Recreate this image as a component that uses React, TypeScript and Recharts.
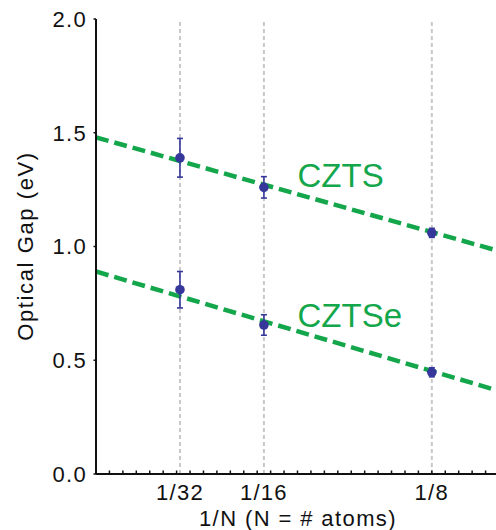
import {
  ComposedChart,
  ErrorBar,
  Line,
  ReferenceDot,
  ReferenceLine,
  Scatter,
  XAxis,
  YAxis,
} from "recharts";

// sizes as 1/N, N = number of atoms
const sizes = [1 / 32, 1 / 16, 1 / 8];
const sizeLabels = ["1/32", "1/16", "1/8"];

const cztsGap = [1.39, 1.26, 1.06];
const cztsErr = [0.085, 0.047, 0.02];
const cztseGap = [0.81, 0.655, 0.447];
const cztseErr = [0.08, 0.045, 0.02];

// linear fits, end points
const fitX = [0, 0.15];
const cztsFit = [1.48, 0.98];
const cztseFit = [0.89, 0.365];

const yTicks = [0, 0.5, 1, 1.5, 2];
const minorStep = 0.005;
const minorTicks = Array.from({ length: 29 }, (_, i) => +((i + 1) * minorStep).toFixed(3)).filter(
  (t) => !sizes.some((s) => Math.abs(s - t) < 1e-9)
);

const GREEN = "#13a64b";
const BLUE = "#36379a";
const FONT = "'Liberation Sans', Arial, Helvetica, sans-serif";

const cztsPoints = sizes.map((x, i) => ({ x, y: cztsGap[i], err: cztsErr[i] }));
const cztsePoints = sizes.map((x, i) => ({ x, y: cztseGap[i], err: cztseErr[i] }));
const cztsLine = fitX.map((x, i) => ({ x, y: cztsFit[i] }));
const cztseLine = fitX.map((x, i) => ({ x, y: cztseFit[i] }));

function XTick({ x, y, payload }: any) {
  const v = payload.value;
  const idx = sizes.findIndex((s) => Math.abs(s - v) < 1e-9);
  const onStep = Math.abs(v / minorStep - Math.round(v / minorStep)) < 1e-6;
  return (
    <g>
      {onStep && <line x1={x} x2={x} y1={y - 1} y2={y - 3.5} stroke="#111" strokeWidth={1.5} />}
      {idx >= 0 && (
        <text x={x} y={y + 26} textAnchor="middle" fontSize={22} letterSpacing={1.3} fill="#111" fontFamily={FONT}>
          {sizeLabels[idx]}
        </text>
      )}
    </g>
  );
}

function YTick({ x, y, payload }: any) {
  return (
    <g>
      <line x1={x - 2.5} x2={x} y1={y} y2={y} stroke="#111" strokeWidth={1.5} />
      <text x={x - 9} y={y} dy="0.36em" textAnchor="end" fontSize={22} letterSpacing={1.3} fill="#111" fontFamily={FONT}>
        {payload.value.toFixed(1)}
      </text>
    </g>
  );
}

const labelShape = (text: string) => (p: any) => (
  <text x={p.cx} y={p.cy} fontSize={33} fill={GREEN} fontFamily={FONT}>
    {text}
  </text>
);

const dotShape = (p: any) => <circle cx={p.cx} cy={p.cy} r={4.8} fill={BLUE} />;

export default function App() {
  return (
    <div style={{ position: "absolute", left: 0, top: 0, width: 496, height: 530, overflow: "hidden", background: "#fff" }}>
      <ComposedChart width={504} height={530} margin={{ top: 19, right: 5, bottom: 0, left: 0 }}>
        <XAxis
          type="number"
          dataKey="x"
          domain={[0, 0.15]}
          ticks={[...minorTicks, ...sizes]}
          interval={0}
          allowDataOverflow
          height={56}
          axisLine={{ stroke: "#111", strokeWidth: 2 }}
          tickLine={false}
          tickSize={0}
          tickMargin={0}
          tick={<XTick />}
        />
        <YAxis
          type="number"
          dataKey="y"
          domain={[0, 2]}
          ticks={yTicks}
          allowDataOverflow
          width={96}
          axisLine={{ stroke: "#111", strokeWidth: 2 }}
          tickLine={false}
          tickSize={0}
          tickMargin={0}
          tick={<YTick />}
        />
        {sizes.map((s) => (
          <ReferenceLine key={s} x={s} stroke="#c8c8c8" strokeWidth={2} strokeDasharray="4 3" />
        ))}
        <Line
          data={cztsLine}
          dataKey="y"
          type="linear"
          stroke={GREEN}
          strokeWidth={4.5}
          strokeDasharray="13 6"
          dot={false}
          activeDot={false}
          isAnimationActive={false}
        />
        <Line
          data={cztseLine}
          dataKey="y"
          type="linear"
          stroke={GREEN}
          strokeWidth={4.5}
          strokeDasharray="13 6"
          dot={false}
          activeDot={false}
          isAnimationActive={false}
        />
        <Scatter data={cztsPoints} dataKey="y" fill={BLUE} shape={dotShape} isAnimationActive={false}>
          <ErrorBar dataKey="err" direction="y" width={3} stroke={BLUE} strokeWidth={1.6} isAnimationActive={false} />
        </Scatter>
        <Scatter data={cztsePoints} dataKey="y" fill={BLUE} shape={dotShape} isAnimationActive={false}>
          <ErrorBar dataKey="err" direction="y" width={3} stroke={BLUE} strokeWidth={1.6} isAnimationActive={false} />
        </Scatter>
        <ReferenceDot x={0.075} y={1.26} r={0} shape={labelShape("CZTS")} />
        <ReferenceDot x={0.075} y={0.645} r={0} shape={labelShape("CZTSe")} />
        <text x={298} y={526} textAnchor="middle" fontSize={22} letterSpacing={1.4} fill="#111" fontFamily={FONT}>
          1/N (N = # atoms)
        </text>
        <text
          x={33}
          y={246}
          transform="rotate(-90 33 246)"
          textAnchor="middle"
          fontSize={22}
          letterSpacing={1.6}
          fill="#111"
          fontFamily={FONT}
        >
          Optical Gap (eV)
        </text>
      </ComposedChart>
    </div>
  );
}
